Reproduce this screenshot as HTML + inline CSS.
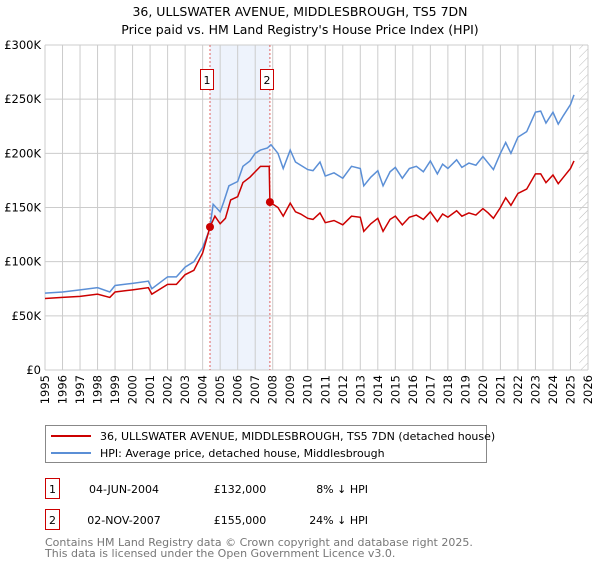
<!DOCTYPE html>
<html><head><meta charset="utf-8"><style>
body{margin:0;background:#fff;font-family:"DejaVu Sans","Liberation Sans",sans-serif;}
svg text{font-family:"DejaVu Sans","Liberation Sans",sans-serif;}
</style></head><body>
<svg id="chart" width="600" height="560" xmlns="http://www.w3.org/2000/svg">
<defs><pattern id="hatch" width="6" height="6" patternUnits="userSpaceOnUse" patternTransform="rotate(45)"><line x1="0" y1="0" x2="0" y2="6" stroke="#bbb" stroke-width="1"/></pattern></defs>
<text x="300" y="16" text-anchor="middle" font-size="12.5">36, ULLSWATER AVENUE, MIDDLESBROUGH, TS5 7DN</text>
<text x="300" y="34" text-anchor="middle" font-size="12.5">Price paid vs. HM Land Registry's House Price Index (HPI)</text>
<g id="plot"></g>
<g>
<rect x="45.5" y="425.5" width="441" height="37" fill="#fff" stroke="#888"/>
<line x1="51" y1="436" x2="91" y2="436" stroke="#cc0000" stroke-width="2"/>
<text x="100" y="440" font-size="11">36, ULLSWATER AVENUE, MIDDLESBROUGH, TS5 7DN (detached house)</text>
<line x1="51" y1="453" x2="91" y2="453" stroke="#5b8fd6" stroke-width="2"/>
<text x="100" y="457" font-size="11">HPI: Average price, detached house, Middlesbrough</text>
</g>
<g font-size="11">
<rect x="45.5" y="478.5" width="14" height="20" fill="none" stroke="#cc0000"/><text x="52.5" y="493" text-anchor="middle">1</text>
<text x="124" y="493" text-anchor="middle">04-JUN-2004</text><text x="240" y="493" text-anchor="middle">£132,000</text><text x="368" y="493" text-anchor="end">8% ↓ HPI</text>
<rect x="45.5" y="509.5" width="14" height="20" fill="none" stroke="#cc0000"/><text x="52.5" y="524" text-anchor="middle">2</text>
<text x="124" y="524" text-anchor="middle">02-NOV-2007</text><text x="240" y="524" text-anchor="middle">£155,000</text><text x="368" y="524" text-anchor="end">24% ↓ HPI</text>
</g>
<text x="45" y="546" font-size="11" fill="#777">Contains HM Land Registry data © Crown copyright and database right 2025.</text>
<text x="45" y="557" font-size="11" fill="#777">This data is licensed under the Open Government Licence v3.0.</text>
</svg>
<script>
const hpiYears=[1995,1996,1997,1998,1998.7,1999,2000,2000.9,2001.1,2002,2002.5,2003,2003.5,2004,2004.4,2004.6,2005,2005.2,2005.5,2006,2006.3,2006.7,2007,2007.3,2007.7,2007.9,2008.3,2008.6,2009,2009.3,2009.6,2010,2010.3,2010.7,2011,2011.5,2012,2012.5,2013,2013.2,2013.6,2014,2014.3,2014.7,2015,2015.4,2015.8,2016.2,2016.6,2017,2017.4,2017.7,2018,2018.5,2018.8,2019.2,2019.6,2020,2020.3,2020.6,2021,2021.3,2021.6,2022,2022.5,2023,2023.3,2023.6,2024,2024.3,2024.6,2025,2025.2];
const hpiValues=[71,72,74,76,72,78,80,82,75,86,86,95,100,113,130,153,146,155,170,174,188,193,200,203,205,208,200,186,203,192,189,185,184,192,179,182,177,188,186,170,178,184,170,183,187,177,186,188,183,193,181,190,186,194,187,191,189,197,191,185,200,210,200,215,220,238,239,228,238,227,235,245,254];
const priceYears=[1995,1996,1997,1998,1998.7,1999,2000,2000.9,2001.1,2002,2002.5,2003,2003.5,2004,2004.42,2004.7,2005,2005.3,2005.6,2006,2006.3,2006.7,2007,2007.3,2007.8,2007.84,2008.3,2008.6,2009,2009.3,2009.6,2010,2010.3,2010.7,2011,2011.5,2012,2012.5,2013,2013.2,2013.6,2014,2014.3,2014.7,2015,2015.4,2015.8,2016.2,2016.6,2017,2017.4,2017.7,2018,2018.5,2018.8,2019.2,2019.6,2020,2020.3,2020.6,2021,2021.3,2021.6,2022,2022.5,2023,2023.3,2023.6,2024,2024.3,2024.6,2025,2025.2];
const priceValues=[66,67,68,70,67,72,74,76,70,79,79,88,92,108,132,142,135,140,157,160,173,178,183,188,188,155,150,142,154,146,144,140,139,145,136,138,134,142,141,128,135,140,128,139,142,134,141,143,139,146,137,144,141,147,142,145,143,149,145,140,150,159,152,163,167,181,181,173,180,172,178,186,193];
const saleYears=[2004.42,2007.84];
const saleValues=[132,155];
const saleLabels=["1","2"];
const yTicks=[0,50,100,150,200,250,300];
const yTickLabels=["£0","£50K","£100K","£150K","£200K","£250K","£300K"];
const xTicks=[1995,1996,1997,1998,1999,2000,2001,2002,2003,2004,2005,2006,2007,2008,2009,2010,2011,2012,2013,2014,2015,2016,2017,2018,2019,2020,2021,2022,2023,2024,2025,2026];
const X0=45,X1=588,Y0=370,Y1=45;
const xs=y=>X0+(y-1995)/(2026-1995)*(X1-X0);
const ys=v=>Y0-v/300*(Y0-Y1);
const NS="http://www.w3.org/2000/svg";
const g=document.getElementById('plot');
function mk(t,a,p){const e=document.createElementNS(NS,t);for(const k in a)e.setAttribute(k,a[k]);(p||g).appendChild(e);return e;}
let e;
e=mk('rect',{x:xs(saleYears[0]),y:Y1,width:xs(saleYears[1])-xs(saleYears[0]),height:Y0-Y1,fill:'#eef3fc'});


e=mk('rect',{x:xs(2025.5),y:Y1,width:X1-xs(2025.5),height:Y0-Y1,fill:'url(#hatch)'});


xTicks.forEach(t=>{
 e=mk('line',{x1:xs(t),x2:xs(t),y1:Y1,y2:Y0,stroke:'#ccc'});
 
 
 e=mk('text',{x:0,y:0,transform:`translate(${xs(t)+4},${Y0+5}) rotate(-90)`,'text-anchor':'end','font-size':'11.5'});
 e.textContent=t;
 
 
});
yTicks.forEach((t,i)=>{
 e=mk('line',{x1:X0,x2:X1,y1:ys(t),y2:ys(t),stroke:'#ccc'});
 
 
 e=mk('text',{x:X0-4,y:ys(t)+4,'text-anchor':'end','font-size':'11.5'});
 e.textContent=yTickLabels[i];
 
 
});
saleYears.forEach((s,i)=>{
 e=mk('line',{x1:xs(s),x2:xs(s),y1:Y1,y2:Y0,stroke:'#e06060','stroke-dasharray':'2,2'});
 
 
});
e=mk('polyline',{points:hpiYears.map((y,i)=>xs(y)+','+ys(hpiValues[i])).join(' '),fill:'none',stroke:'#5b8fd6','stroke-width':1.5});


e=mk('polyline',{points:priceYears.map((y,i)=>xs(y)+','+ys(priceValues[i])).join(' '),fill:'none',stroke:'#cc0000','stroke-width':1.5});


saleYears.forEach((s,i)=>{
 e=mk('circle',{cx:xs(s),cy:ys(saleValues[i]),r:4,fill:'#cc0000'});
 
 
 e=mk('rect',{x:Math.round(xs(s)-10)+0.5,y:69.5,width:13,height:20,fill:'#fff',stroke:'#cc0000'});
 
 
 e=mk('text',{x:Math.round(xs(s)-10)+7,y:84,'text-anchor':'middle','font-size':'11'});
 e.textContent=saleLabels[i];
 
 
});
</script>
</body></html>
